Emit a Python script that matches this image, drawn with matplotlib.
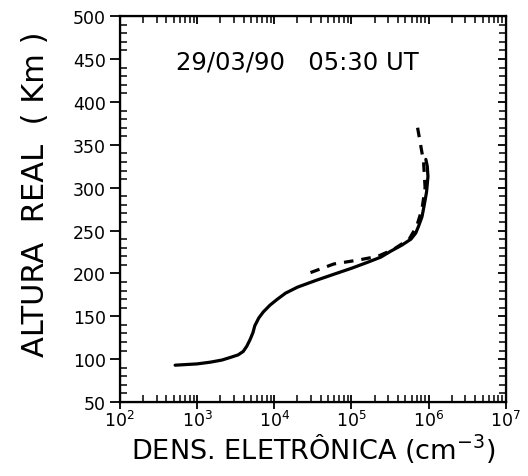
import numpy as np
import matplotlib
matplotlib.use("Agg")
import matplotlib.pyplot as plt
from matplotlib.ticker import LogLocator, MultipleLocator, NullFormatter

plt.rcParams['font.family'] = ['DejaVu Sans']

# perfil medido (linha cheia)
dens_solid = [520, 1000, 1480, 2100, 2690, 3400, 3960, 4400, 4870, 5300,
              5600, 6300, 7200, 8800, 11000, 14000, 20000, 35000, 59000,
              100000, 162000, 240000, 324000, 450000, 590000, 680000,
              740000, 820000, 870000, 940000, 980000, 960000, 920000]
alt_solid = [93, 94.5, 96.5, 99, 102, 105, 109, 115, 123, 131,
             139, 148, 155, 163, 170, 177, 184, 192, 199,
             206, 213, 219, 226, 233, 240, 247,
             255, 266, 278, 295, 313, 325, 333]

# perfil modelo (linha tracejada)
dens_dash = [29500, 59000, 130000, 220000, 350000, 560000, 700000,
             820000, 900000, 860000, 780000, 700000]
alt_dash = [201, 211, 216, 220, 228, 240, 255, 275, 300, 330, 352, 376]

title_txt = "29/03/90   05:30 UT"

fig = plt.figure(figsize=(5.28, 4.77), dpi=100)
ax = fig.add_axes([0.227, 0.155, 0.731, 0.809])

ax.plot(dens_solid, alt_solid, color='black', lw=2.3, solid_capstyle='round',
        solid_joinstyle='round')
ax.plot(dens_dash, alt_dash, color='black', lw=2.3, ls=(0, (3, 2.5)))

ax.set_xscale('log')
ax.set_xlim(1e2, 1e7)
ax.set_ylim(50, 500)

ax.xaxis.set_major_locator(LogLocator(base=10, numticks=10))
ax.xaxis.set_minor_locator(LogLocator(base=10, subs=np.arange(2, 10), numticks=20))
ax.xaxis.set_minor_formatter(NullFormatter())
ax.yaxis.set_major_locator(MultipleLocator(50))
ax.yaxis.set_minor_locator(MultipleLocator(10))

ax.tick_params(axis='x', which='major', direction='inout', length=10, width=1.3,
               labelsize=12.5, pad=1)
ax.tick_params(axis='y', which='major', direction='out', length=7, width=1.3,
               labelsize=12.5, pad=3)
ax.tick_params(which='minor', direction='in', length=5, width=1.1)
for s in ax.spines.values():
    s.set_linewidth(1.6)

# ticks de cima e da direita, para dentro
axt = ax.twiny()
axt.set_xscale('log')
axt.set_xlim(ax.get_xlim())
axt.xaxis.set_major_locator(LogLocator(base=10, numticks=10))
axt.xaxis.set_minor_locator(LogLocator(base=10, subs=np.arange(2, 10), numticks=20))
axt.xaxis.set_minor_formatter(NullFormatter())
axt.tick_params(which='both', direction='in', labeltop=False)
axt.tick_params(which='major', length=6, width=1.3)
axt.tick_params(which='minor', length=5, width=1.1)

axr = ax.twinx()
axr.set_ylim(ax.get_ylim())
axr.yaxis.set_major_locator(MultipleLocator(50))
axr.yaxis.set_minor_locator(MultipleLocator(10))
axr.tick_params(which='both', direction='in', labelright=False)
axr.tick_params(which='major', length=6, width=1.3)
axr.tick_params(which='minor', length=5, width=1.1)

ax.set_xlabel(r"DENS. ELETRÔNICA (cm$^{-3}$)", fontsize=19.5)
ax.xaxis.set_label_coords(0.5, -0.075)
ax.set_ylabel("ALTURA  REAL  ( Km )", fontsize=22)
ax.yaxis.set_label_coords(-0.18, 0.54)

ax.text(0.46, 0.883, title_txt, transform=ax.transAxes, ha='center',
        va='center', fontsize=17.5)

fig.savefig("out.png", dpi=100)
